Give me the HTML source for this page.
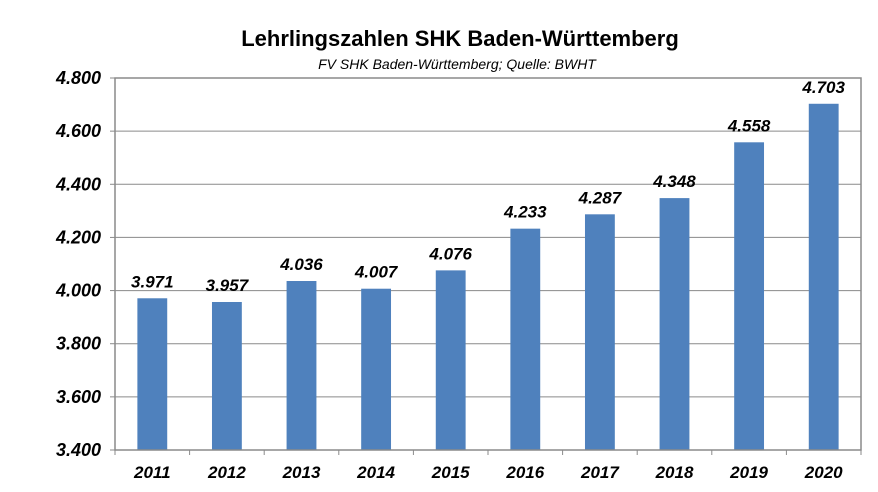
<!DOCTYPE html>
<html><head><meta charset="utf-8"><style>
body{margin:0;background:#fff;}
svg{display:block;font-family:"Liberation Sans",Arial,sans-serif;}
</style></head><body>
<svg width="878" height="492">
<text x="460" y="46" text-anchor="middle" font-size="22" font-weight="bold" fill="#000">Lehrlingszahlen SHK Baden-Württemberg</text>
<text x="457" y="69" text-anchor="middle" font-size="14" font-style="italic" fill="#000">FV SHK Baden-Württemberg; Quelle: BWHT</text>
<g id="grid"></g><g id="bars"></g><g id="axes"></g>
</svg>
<script>
const categories=["2011","2012","2013","2014","2015","2016","2017","2018","2019","2020"];
const values=[3971,3957,4036,4007,4076,4233,4287,4348,4558,4703];
const valueLabels=["3.971","3.957","4.036","4.007","4.076","4.233","4.287","4.348","4.558","4.703"];
const yTicks=[3400,3600,3800,4000,4200,4400,4600,4800];
const yTickLabels=["3.400","3.600","3.800","4.000","4.200","4.400","4.600","4.800"];
const L=115,R=861,T=78,B=450,yMin=3400,yMax=4800;
const NS="http://www.w3.org/2000/svg";
const bw=(R-L)/categories.length;
const y=v=>B-(v-yMin)/(yMax-yMin)*(B-T);
const x=i=>L+bw*(i+0.5);
function mk(t,a,p){const e=document.createElementNS(NS,t);for(const k in a)e.setAttribute(k,a[k]);p.appendChild(e);return e;}
const grid=document.getElementById('grid'),bars=document.getElementById('bars'),axes=document.getElementById('axes');
yTicks.forEach((v,i)=>{
 if(v>yMin){const g=mk('line',{x1:L,x2:R,y1:y(v),y2:y(v),stroke:'#8a8a8a','stroke-width':1},grid);
 
 }
 const t=mk('text',{x:101,y:y(v)+6,'text-anchor':'end','font-size':18,'font-weight':'bold','font-style':'italic'},axes);
 t.textContent=yTickLabels[i];
 
 
 const tk=mk('line',{x1:L-5,x2:L,y1:y(v),y2:y(v),stroke:'#8a8a8a'},axes);
 
 
});
const fr=mk('rect',{x:L,y:T,width:R-L,height:B-T,fill:'none',stroke:'#8a8a8a','stroke-width':1.5},axes);


categories.forEach((c,i)=>{
 const w=bw*0.4;
 const r=mk('rect',{x:x(i)-w/2,y:y(values[i]),width:w,height:B-y(values[i]),fill:'#4f81bd'},bars);
 
 
 const vl=mk('text',{x:x(i),y:y(values[i])-11,'text-anchor':'middle','font-size':17,'font-weight':'bold','font-style':'italic'},axes);
 vl.textContent=valueLabels[i];
 
 
 const xl=mk('text',{x:x(i),y:478,'text-anchor':'middle','font-size':17,'font-weight':'bold','font-style':'italic'},axes);
 xl.textContent=c;
 
 
 const tk=mk('line',{x1:L+bw*i,x2:L+bw*i,y1:B,y2:B+5,stroke:'#8a8a8a'},axes);
 
 
});
const lt=mk('line',{x1:R,x2:R,y1:B,y2:B+5,stroke:'#8a8a8a'},axes);


</script>
</body></html>
